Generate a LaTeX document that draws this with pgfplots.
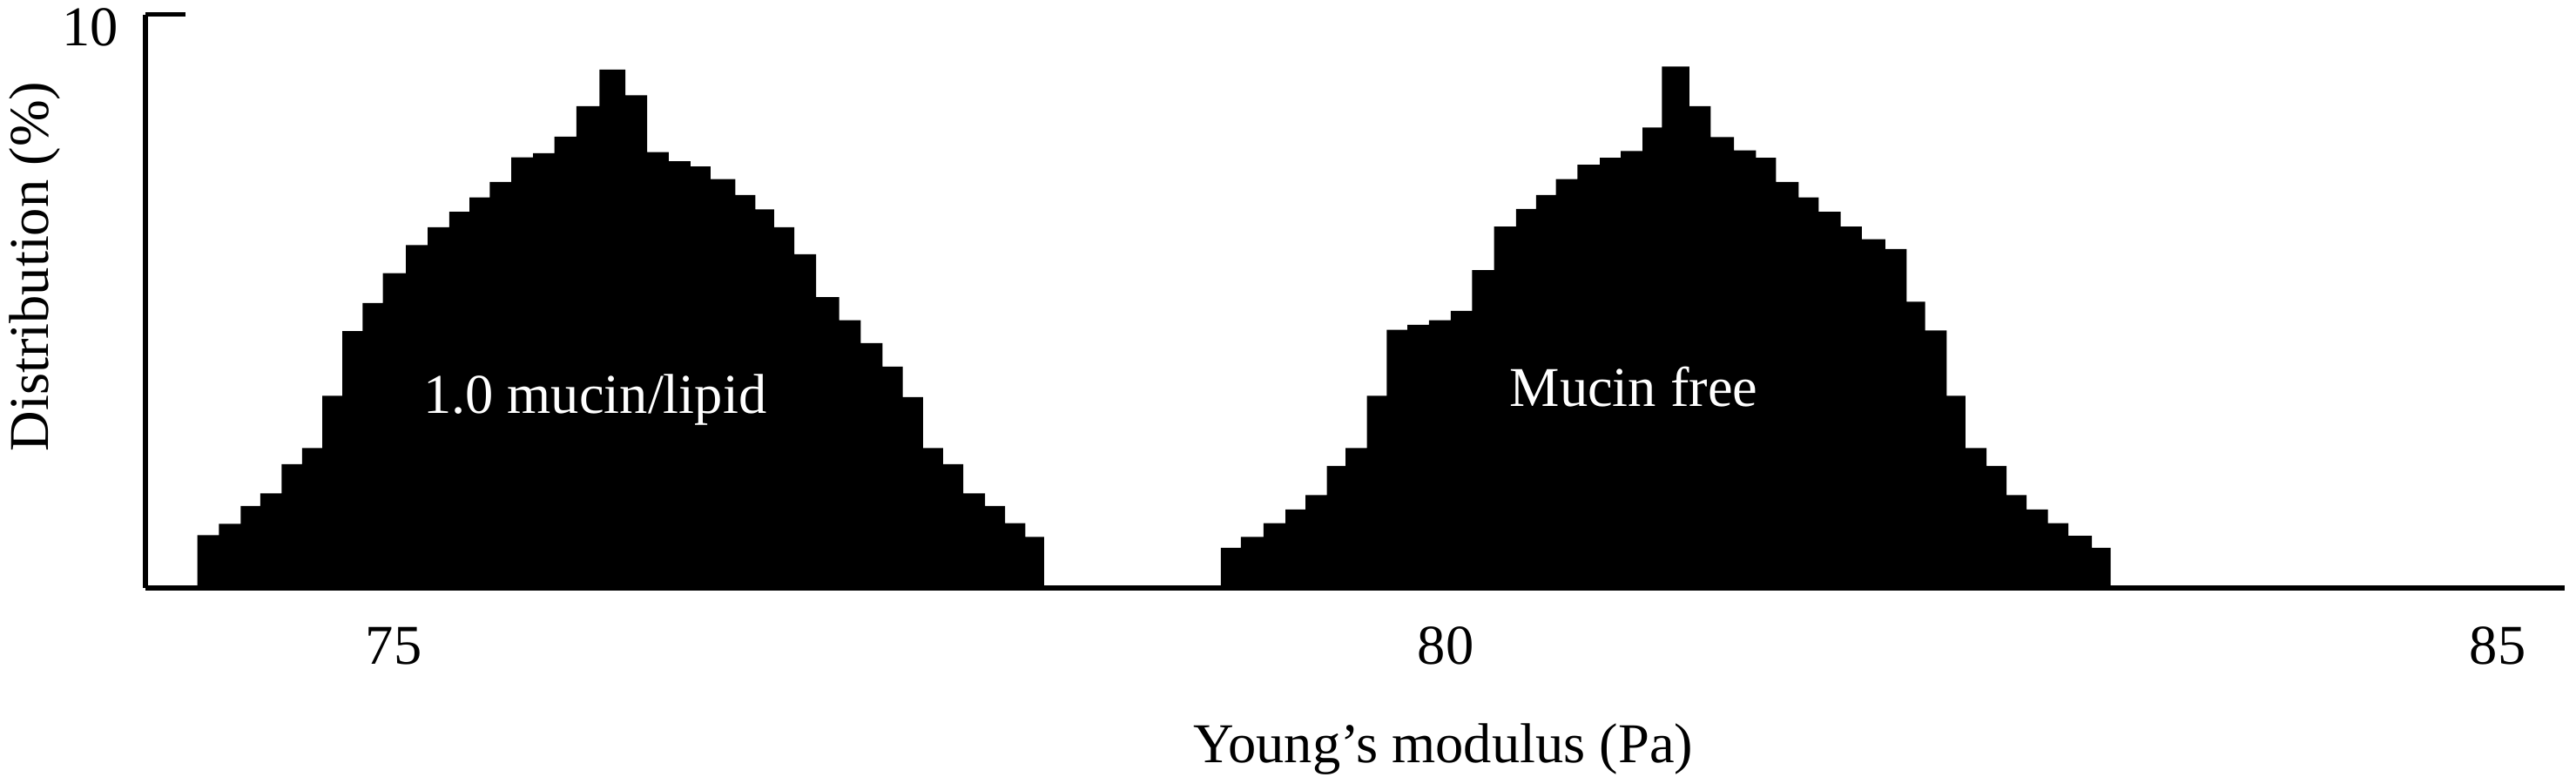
\documentclass[border=0pt]{standalone}
\usepackage{fontspec}
\setmainfont{Liberation Serif}
\usepackage{pgfplots}
\pgfplotsset{compat=1.18}
\begin{document}
\begin{tikzpicture}
\begin{axis}[
  scale only axis, width=430.6pt, height=102.07pt,
  xmin=73.820, xmax=85.319, ymin=0, ymax=10,
  axis x line*=bottom, axis y line*=left,
  axis line style={line width=0.9pt, black},
  xtick={75,80,85}, ytick={10},
  tick align=inside,
  major tick length=7.1pt,
  tick style={black, line width=0.9pt},
  xtick style={draw=none},
  tick label style={font=\fontsize{10}{12}\selectfont},
  /pgf/number format/assume math mode=true,
  xticklabel style={yshift=-3.4pt},
  yticklabel style={xshift=-1.3pt, yshift=-2.3pt},
  xlabel={Young’s modulus (Pa)},
  ylabel={Distribution (\%)},
  label style={font=\fontsize{10}{12}\selectfont},
  xlabel style={at={(axis description cs:0.5364,0)}, anchor=base, yshift=-31pt},
  ylabel style={at={(axis description cs:-0.0457,0.5604)}, anchor=center},
  clip=false,
]
% 1.0 mucin/lipid (left edges of bins, heights in %)
\addplot[fill=black, draw=none, const plot] coordinates {
(74.066,0.92) (74.169,1.12) (74.272,1.43) (74.365,1.65) (74.467,2.16)
(74.564,2.44) (74.660,3.35) (74.756,4.48) (74.852,4.97) (74.948,5.49)
(75.058,5.98) (75.161,6.29) (75.264,6.56) (75.360,6.81) (75.456,7.08)
(75.559,7.51) (75.662,7.58) (75.764,7.87) (75.868,8.40) (75.978,9.04)
(76.101,8.59) (76.204,7.60) (76.307,7.44) (76.410,7.35) (76.506,7.13)
(76.623,6.85) (76.719,6.60) (76.808,6.29) (76.904,5.82) (77.007,5.07)
(77.117,4.67) (77.220,4.27) (77.323,3.86) (77.419,3.33) (77.515,2.44)
(77.611,2.16) (77.707,1.65) (77.810,1.43) (77.906,1.13) (78.002,0.89)
(78.091,0.89)
} \closedcycle;
% Mucin free
\addplot[fill=black, draw=none, const plot] coordinates {
(78.931,0.70) (79.026,0.89) (79.134,1.13) (79.238,1.37) (79.334,1.62)
(79.435,2.13) (79.524,2.44) (79.625,3.35) (79.720,4.50) (79.818,4.59)
(79.920,4.67) (80.024,4.83) (80.125,5.54) (80.230,6.30) (80.334,6.61)
(80.430,6.85) (80.524,7.13) (80.626,7.38) (80.733,7.50) (80.832,7.62)
(80.936,8.03) (81.028,9.09) (81.158,8.40) (81.259,7.86) (81.370,7.63)
(81.475,7.50) (81.570,7.08) (81.678,6.81) (81.773,6.56) (81.877,6.30)
(81.978,6.08) (82.089,5.91) (82.191,4.99) (82.279,4.49) (82.381,3.35)
(82.470,2.44) (82.571,2.13) (82.666,1.62) (82.761,1.37) (82.862,1.13)
(82.960,0.91) (83.071,0.70) (83.160,0.70)
} \closedcycle;
\node[text=white, anchor=base, font=\fontsize{10}{12}\selectfont] at (axis cs:75.956,3.04) {1.0 mucin/lipid};
\node[text=white, anchor=base, font=\fontsize{10}{12}\selectfont] at (axis cs:80.894,3.17) {Mucin free};
\coordinate (bl) at (rel axis cs:-0.06015,-0.3292);
\coordinate (tr) at (rel axis cs:1.00465,1.0251);
\end{axis}
\pgfresetboundingbox
\path[use as bounding box] (bl) rectangle (tr);
\end{tikzpicture}
\end{document}
